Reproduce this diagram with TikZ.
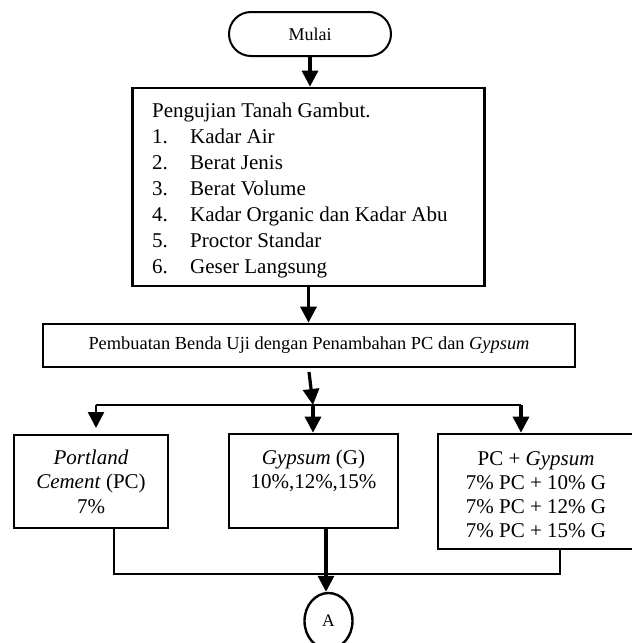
\documentclass[tikz,border=0pt]{standalone}
\usepackage{fontspec}
\setmainfont{Liberation Serif}
\usetikzlibrary{arrows.meta,shapes.geometric,calc}
\begin{document}
\begin{tikzpicture}[x=1pt,y=-1pt,
  boxst/.style={draw, line width=2.7pt, rectangle, inner sep=0pt},
  term/.style={draw, line width=2pt, rounded corners=22pt, minimum width=162pt, minimum height=44pt, inner sep=0pt, font=\fontsize{18}{21}\selectfont},
  conn/.style={draw, line width=2.4pt, ellipse, minimum width=48pt, minimum height=56pt, inner sep=0pt, font=\fontsize{17.5}{20}\selectfont},
  arr/.style={line width=3.2pt, -{Triangle[width=16pt,length=16pt]}},
  thinline/.style={line width=1.2pt},
  txt/.style={inner sep=0pt, anchor=base},
]
\useasboundingbox (0,0) rectangle (632,643);

% nodes
\node[term] (mulai) at (310,34) {Mulai};
\node[boxst, minimum width=352pt, minimum height=198pt] (uji) at (308.5,187) {};
\node[txt, anchor=base west, font=\fontsize{21}{26}\selectfont] (ujitext) at (152,117)
  {\begin{tabular}[t]{@{}p{38pt}@{}l@{}}
   \multicolumn{2}{@{}l@{}}{Pengujian Tanah Gambut.}\\
   1. & Kadar Air\\
   2. & Berat Jenis\\
   3. & Berat Volume\\
   4. & Kadar Organic dan Kadar Abu\\
   5. & Proctor Standar\\
   6. & Geser Langsung
   \end{tabular}};
\node[boxst, minimum width=532pt, minimum height=43pt, font=\fontsize{18.4}{21}\selectfont] (buat) at (309,345.5)
  {Pembuatan Benda Uji dengan Penambahan PC dan \textit{Gypsum}};
\node[boxst, minimum width=154pt, minimum height=93pt] (pc) at (91,481.5) {};
\node[boxst, minimum width=169pt, minimum height=94pt] (gyp) at (313.5,481) {};
\node[boxst, minimum width=196pt, minimum height=115pt] (pcg) at (536,491.5) {};
\node[txt, font=\fontsize{21}{24.5}\selectfont] (pctext) at (91,464)
  {\begin{tabular}[t]{@{}c@{}}\textit{Portland}\\ \textit{Cement} (PC)\\ 7\%\end{tabular}};
\node[txt, font=\fontsize{21}{24.5}\selectfont] (gyptext) at (313.5,464)
  {\begin{tabular}[t]{@{}c@{}}\textit{Gypsum} (G)\\ 10\%,12\%,15\%\end{tabular}};
\node[txt, font=\fontsize{21}{24}\selectfont] (pcgtext) at (536,465)
  {\begin{tabular}[t]{@{}c@{}}PC + \textit{Gypsum}\\ 7\% PC + 10\% G\\ 7\% PC + 12\% G\\ 7\% PC + 15\% G\end{tabular}};
\node[conn] (A) at (328.5,621) {A};

% coordinates
\coordinate (s) at (309,372);
\coordinate (j) at (313,405);
\coordinate (jl) at (96,405);
\coordinate (jr) at (521,405);
\coordinate (tl) at (96,428);
\coordinate (b1) at (114,574);
\coordinate (b2) at (560,574);

% connectors
\draw[arr] (mulai.south) -- (mulai.south |- uji.north);
\draw[arr] (uji.south) -- (uji.south |- buat.north);
\draw[arr] (s) -- (j);
\draw[thinline] (jl) -- (jr);
\draw[arr, line width=2.4pt] (jl) -- (tl);
\draw[arr] (j) -- (j |- gyp.north);
\draw[arr] (jr) -- (jr |- pcg.north);
\draw[thinline] (pc.south -| b1) -- (b1) -- (b2) -- (pcg.south -| b2);
\draw[arr] (gyp.south -| 326,0) -- (A.north -| 326,0);
\end{tikzpicture}
\end{document}
